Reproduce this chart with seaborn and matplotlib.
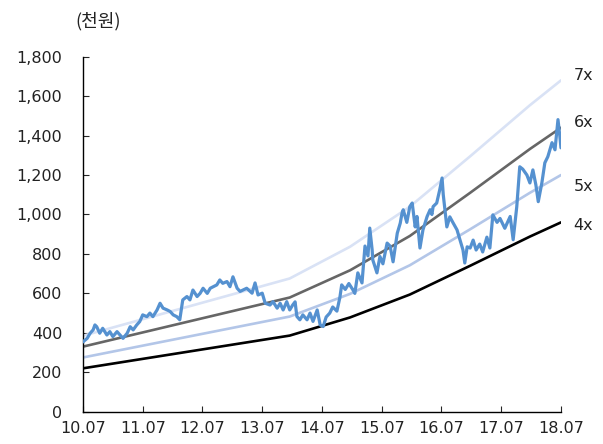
import numpy as np
import pandas as pd
import matplotlib
matplotlib.use("Agg")
import matplotlib.pyplot as plt
import seaborn as sns

# Share price (thousand KRW), time in decimal years
price_t = [2010.50, 2010.57, 2010.62, 2010.67, 2010.70, 2010.73, 2010.78, 2010.83, 2010.90, 2010.95,
           2011.00, 2011.07, 2011.12, 2011.17, 2011.24, 2011.29, 2011.34, 2011.40, 2011.45, 2011.50,
           2011.57, 2011.62, 2011.67, 2011.74, 2011.79, 2011.84, 2011.91, 2011.96, 2012.01, 2012.07,
           2012.12, 2012.17, 2012.24, 2012.29, 2012.34, 2012.41, 2012.46, 2012.51, 2012.58, 2012.63,
           2012.68, 2012.74, 2012.79, 2012.84, 2012.91, 2012.96, 2013.01, 2013.08, 2013.13, 2013.18,
           2013.24, 2013.33, 2013.38, 2013.43, 2013.50, 2013.55, 2013.63, 2013.68, 2013.75, 2013.80,
           2013.85, 2013.91, 2013.96, 2014.01, 2014.05, 2014.08, 2014.13, 2014.18, 2014.25, 2014.30,
           2014.35, 2014.42, 2014.47, 2014.52, 2014.57, 2014.63, 2014.68, 2014.75, 2014.80, 2014.83,
           2014.89, 2014.95, 2015.02, 2015.05, 2015.10, 2015.17, 2015.22, 2015.27, 2015.30, 2015.34,
           2015.35, 2015.42, 2015.47, 2015.52, 2015.59, 2015.64, 2015.69, 2015.76, 2015.81, 2015.84,
           2015.86, 2015.92, 2015.97, 2016.01, 2016.06, 2016.09, 2016.14, 2016.19, 2016.26, 2016.31,
           2016.34, 2016.36, 2016.42, 2016.47, 2016.51, 2016.53, 2016.59, 2016.64, 2016.69, 2016.76,
           2016.81, 2016.86, 2016.89, 2016.93, 2016.98, 2017.03, 2017.08, 2017.14, 2017.19, 2017.26,
           2017.31, 2017.36, 2017.43, 2017.48, 2017.56, 2017.65, 2017.70, 2017.76, 2017.81, 2017.86,
           2017.93, 2017.98, 2018.03, 2018.08, 2018.12, 2018.18, 2018.23, 2018.28, 2018.35, 2018.40,
           2018.45, 2018.48, 2018.50]
price = [354, 372, 398, 415, 440, 431, 398, 423, 389, 406,
         381, 406, 389, 372, 398, 431, 415, 440, 457, 491,
         482, 500, 482, 516, 550, 525, 516, 508, 491, 482,
         466, 567, 584, 567, 617, 584, 600, 626, 600, 626,
         634, 643, 668, 651, 660, 634, 684, 626, 610, 617,
         626, 601, 653, 592, 601, 550, 541, 558, 525, 550,
         516, 558, 516, 541, 557, 483, 466, 491, 466, 500,
         458, 516, 440, 432, 480, 500, 531, 510, 580, 643,
         620, 650, 617, 600, 704, 653, 840, 790, 931, 820,
         770, 704, 787, 750, 855, 840, 760, 905, 956, 1007,
         1024, 960, 1040, 1058, 937, 990, 830, 922, 990, 1024,
         1000, 1040, 1058, 1124, 1185, 1100, 937, 988, 960, 922,
         871, 820, 754, 836, 830, 870, 820, 850, 810, 885,
         830, 998, 960, 980, 930, 990, 872, 1039, 1242, 1230,
         1200, 1160, 1226, 1150, 1065, 1160, 1262, 1293, 1364, 1328,
         1481, 1400, 1338]

# EPS path used for the PER band lines
eps_t = [2010.50, 2013.96, 2014.97, 2015.97, 2016.98, 2017.98, 2018.50]
eps = [55, 96.5, 119.5, 148.5, 185, 222, 240]

multiples = [7, 6, 5, 4]
band_labels = ["7x", "6x", "5x", "4x"]
band_colors = ["#d9e2f5", "#666666", "#b3c6e8", "#000000"]
label_offsets = [(9, 3.5), (9, 4), (9, -8), (9, -2.5)]

x_ticks = [2010.5 + k for k in range(9)]
x_tick_labels = ["10.07", "11.07", "12.07", "13.07", "14.07", "15.07", "16.07", "17.07", "18.07"]
y_ticks = list(range(0, 1801, 200))

sns.set_style("white")
plt.rcParams["font.family"] = ["DejaVu Sans"]

fig = plt.figure(figsize=(6.03, 4.44), dpi=100)
ax = fig.add_axes([0.1376, 0.0727, 0.7927, 0.7996])

bands = pd.DataFrame({"t": eps_t, "eps": eps})
for m, lab, col, off in zip(multiples, band_labels, band_colors, label_offsets):
    bands["v"] = bands["eps"] * m
    sns.lineplot(data=bands, x="t", y="v", ax=ax, color=col, linewidth=1.9, zorder=2)
    ax.annotate(lab, xy=(eps_t[-1], eps[-1] * m), xytext=off, textcoords="offset points",
                ha="left", va="center", fontsize=11.5, color="#222222", annotation_clip=False)

px = pd.DataFrame({"t": price_t, "price": price})
sns.lineplot(data=px, x="t", y="price", ax=ax, color="#5591d0", linewidth=2.3, zorder=3)

ax.set_xlim(2010.5, 2018.5)
ax.set_ylim(0, 1800)
ax.set_xticks(x_ticks)
ax.set_xticklabels(x_tick_labels)
ax.set_yticks(y_ticks)
ax.set_yticklabels([f"{v:,}" for v in y_ticks])
ax.set_xlabel("")
ax.set_ylabel("")
for s in ["top", "right"]:
    ax.spines[s].set_visible(False)
for s in ["left", "bottom"]:
    ax.spines[s].set_color("#000000")
    ax.spines[s].set_linewidth(1.0)
ax.tick_params(axis="y", direction="in", length=4, width=0.8, pad=15, labelsize=11.5,
               labelcolor="#222222", left=True)
ax.tick_params(axis="x", direction="in", length=4, width=0.8, pad=7, labelsize=11.5,
               labelcolor="#222222", bottom=True)

fig.text(98 / 603, 1 - 21 / 444, "(천원)", ha="center", va="center", fontsize=13,
         color="#222222", family=["Noto Sans CJK KR", "DejaVu Sans"])

fig.savefig("out.png", dpi=100)
